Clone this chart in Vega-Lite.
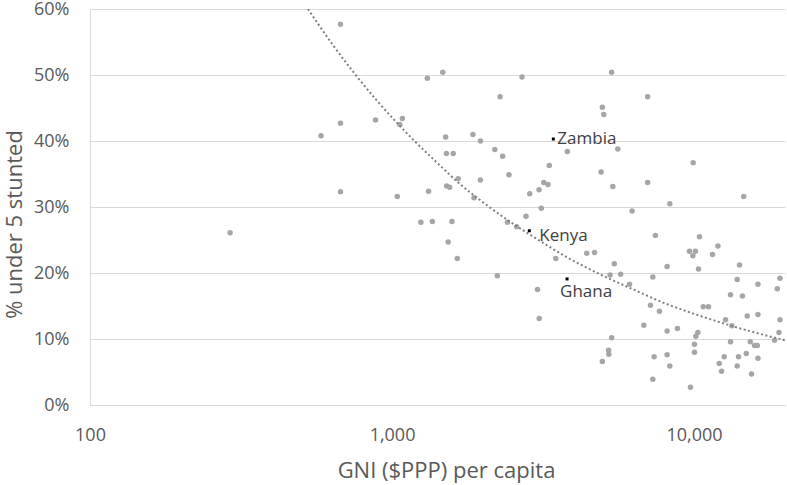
{
  "$schema": "https://vega.github.io/schema/vega-lite/v6.json",
  "width": 695,
  "height": 396,
  "autosize": "none",
  "padding": {"left": 90, "top": 9, "right": 2, "bottom": 80},
  "background": "white",
  "config": {
    "view": {"stroke": null},
    "font": "Open Sans",
    "axis": {"labelFont": "Open Sans", "titleFont": "Open Sans", "labelColor": "#595959", "titleColor": "#595959", "titleFontWeight": "normal", "domainColor": "#d9d9d9", "gridColor": "#d9d9d9", "ticks": false, "tickSize": 0, "labelFontSize": 18, "titleFontSize": 22}
  },
  "datasets": {
    "pts": [
      {"g": 291, "s": 26.1, "c": ""}, {"g": 582, "s": 40.8, "c": ""}, {"g": 675, "s": 42.7, "c": ""}, {"g": 675, "s": 57.7, "c": ""},
      {"g": 675, "s": 32.3, "c": ""}, {"g": 882, "s": 43.2, "c": ""}, {"g": 1041, "s": 31.6, "c": ""}, {"g": 1082, "s": 43.4, "c": ""},
      {"g": 1061, "s": 42.5, "c": ""}, {"g": 1246, "s": 27.7, "c": ""}, {"g": 1309, "s": 49.5, "c": ""}, {"g": 1360, "s": 27.8, "c": ""},
      {"g": 1321, "s": 32.4, "c": ""}, {"g": 1472, "s": 50.4, "c": ""}, {"g": 1505, "s": 40.6, "c": ""}, {"g": 1514, "s": 38.1, "c": ""},
      {"g": 1594, "s": 38.1, "c": ""}, {"g": 1516, "s": 33.2, "c": ""}, {"g": 1551, "s": 33.0, "c": ""}, {"g": 1579, "s": 27.8, "c": ""},
      {"g": 1534, "s": 24.7, "c": ""}, {"g": 1644, "s": 22.2, "c": ""}, {"g": 1656, "s": 34.3, "c": ""}, {"g": 1853, "s": 41.0, "c": ""},
      {"g": 1962, "s": 40.0, "c": ""}, {"g": 1962, "s": 34.1, "c": ""}, {"g": 1868, "s": 31.4, "c": ""}, {"g": 2189, "s": 38.7, "c": ""},
      {"g": 2280, "s": 46.7, "c": ""}, {"g": 2231, "s": 19.6, "c": ""}, {"g": 2324, "s": 37.7, "c": ""}, {"g": 2439, "s": 34.9, "c": ""},
      {"g": 2411, "s": 27.7, "c": ""}, {"g": 2586, "s": 27.0, "c": ""}, {"g": 2693, "s": 49.7, "c": ""}, {"g": 2777, "s": 28.6, "c": ""},
      {"g": 2857, "s": 32.0, "c": ""}, {"g": 3067, "s": 32.6, "c": ""}, {"g": 3121, "s": 29.8, "c": ""}, {"g": 3179, "s": 33.7, "c": ""},
      {"g": 3284, "s": 33.4, "c": ""}, {"g": 3317, "s": 36.3, "c": ""}, {"g": 3031, "s": 17.5, "c": ""}, {"g": 3071, "s": 13.1, "c": ""},
      {"g": 3484, "s": 22.2, "c": ""}, {"g": 3806, "s": 38.4, "c": ""}, {"g": 4412, "s": 23.0, "c": ""}, {"g": 4683, "s": 23.1, "c": ""},
      {"g": 4921, "s": 35.3, "c": ""}, {"g": 4970, "s": 45.1, "c": ""}, {"g": 5023, "s": 44.0, "c": ""}, {"g": 5333, "s": 50.4, "c": ""},
      {"g": 5383, "s": 33.1, "c": ""}, {"g": 5591, "s": 38.8, "c": ""}, {"g": 5444, "s": 21.4, "c": ""}, {"g": 5272, "s": 19.7, "c": ""},
      {"g": 5712, "s": 19.8, "c": ""}, {"g": 6116, "s": 18.3, "c": ""}, {"g": 6234, "s": 29.4, "c": ""}, {"g": 5333, "s": 10.2, "c": ""},
      {"g": 5212, "s": 8.3, "c": ""}, {"g": 5220, "s": 7.7, "c": ""}, {"g": 4970, "s": 6.6, "c": ""}, {"g": 6817, "s": 12.1, "c": ""},
      {"g": 7170, "s": 15.1, "c": ""}, {"g": 7680, "s": 14.2, "c": ""}, {"g": 7018, "s": 46.7, "c": ""}, {"g": 7018, "s": 33.7, "c": ""},
      {"g": 8311, "s": 30.5, "c": ""}, {"g": 9931, "s": 36.7, "c": ""}, {"g": 14600, "s": 31.6, "c": ""}, {"g": 7449, "s": 25.7, "c": ""},
      {"g": 10420, "s": 25.5, "c": ""}, {"g": 11996, "s": 24.1, "c": ""}, {"g": 9656, "s": 23.3, "c": ""}, {"g": 10106, "s": 23.3, "c": ""},
      {"g": 9909, "s": 22.6, "c": ""}, {"g": 11508, "s": 22.8, "c": ""}, {"g": 8141, "s": 21.0, "c": ""}, {"g": 10342, "s": 20.6, "c": ""},
      {"g": 14140, "s": 21.2, "c": ""}, {"g": 7301, "s": 19.4, "c": ""}, {"g": 13895, "s": 19.0, "c": ""}, {"g": 16272, "s": 18.3, "c": ""},
      {"g": 19248, "s": 19.2, "c": ""}, {"g": 18858, "s": 17.6, "c": ""}, {"g": 13204, "s": 16.7, "c": ""}, {"g": 14467, "s": 16.5, "c": ""},
      {"g": 10720, "s": 14.9, "c": ""}, {"g": 11161, "s": 14.9, "c": ""}, {"g": 8141, "s": 11.2, "c": ""}, {"g": 8810, "s": 11.6, "c": ""},
      {"g": 12710, "s": 12.9, "c": ""}, {"g": 14996, "s": 13.5, "c": ""}, {"g": 16272, "s": 13.7, "c": ""}, {"g": 13345, "s": 12.0, "c": ""},
      {"g": 19248, "s": 12.9, "c": ""}, {"g": 10294, "s": 11.0, "c": ""}, {"g": 10139, "s": 10.4, "c": ""}, {"g": 19101, "s": 11.0, "c": ""},
      {"g": 18471, "s": 9.8, "c": ""}, {"g": 13204, "s": 9.6, "c": ""}, {"g": 15346, "s": 9.6, "c": ""}, {"g": 15857, "s": 9.0, "c": ""},
      {"g": 16190, "s": 9.0, "c": ""}, {"g": 10030, "s": 9.2, "c": ""}, {"g": 10030, "s": 8.0, "c": ""}, {"g": 7374, "s": 7.3, "c": ""},
      {"g": 8141, "s": 7.6, "c": ""}, {"g": 8311, "s": 5.9, "c": ""}, {"g": 12584, "s": 7.3, "c": ""}, {"g": 14033, "s": 7.3, "c": ""},
      {"g": 14884, "s": 7.8, "c": ""}, {"g": 16272, "s": 7.1, "c": ""}, {"g": 12115, "s": 6.3, "c": ""}, {"g": 13895, "s": 5.9, "c": ""},
      {"g": 12328, "s": 5.1, "c": ""}, {"g": 15500, "s": 4.7, "c": ""}, {"g": 7301, "s": 3.9, "c": ""}, {"g": 9729, "s": 2.7, "c": ""},
      {"g": 3420, "s": 40.3, "c": "Zambia"}, {"g": 2848, "s": 26.4, "c": "Kenya"}, {"g": 3797, "s": 19.1, "c": "Ghana"}
    ],
    "trend": [
      {"g": 527, "s": 60.0}, {"g": 638, "s": 54.5}, {"g": 743, "s": 50.5}, {"g": 888, "s": 46.2}, {"g": 1061, "s": 42.3},
      {"g": 1205, "s": 39.7}, {"g": 1440, "s": 36.3}, {"g": 1677, "s": 33.5}, {"g": 2057, "s": 30.3}, {"g": 2586, "s": 27.1},
      {"g": 2935, "s": 25.5}, {"g": 3788, "s": 22.4}, {"g": 4884, "s": 19.8}, {"g": 6297, "s": 17.5}, {"g": 8125, "s": 15.3},
      {"g": 10476, "s": 13.5}, {"g": 13508, "s": 11.9}, {"g": 20000, "s": 9.8}
    ]
  },
  "data": {"name": "pts"},
  "encoding": {
    "x": {"field": "g", "type": "quantitative", "scale": {"type": "log", "domain": [100, 20000], "nice": false},
      "axis": {"values": [100, 1000, 10000], "format": ",", "grid": false, "labelFlush": false, "labelPadding": 21, "title": "GNI ($PPP) per capita", "titleBaseline": "alphabetic", "titleY": 72, "titleX": 356}},
    "y": {"field": "s", "type": "quantitative", "scale": {"domain": [0, 60], "nice": false},
      "axis": {"values": [0, 10, 20, 30, 40, 50, 60], "labelExpr": "datum.value + '%'", "labelPadding": 21, "title": "% under 5 stunted", "titleBaseline": "alphabetic", "titleX": -69, "titleY": 215}}
  },
  "layer": [
    {"transform": [{"filter": "datum.c == ''"}], "mark": {"type": "point", "filled": true, "size": 30, "color": "#a6a6a6", "opacity": 1}},
    {"data": {"name": "trend"}, "mark": {"type": "line", "color": "#7f7f7f", "strokeWidth": 2, "strokeDash": [2, 2.5], "interpolate": "monotone", "clip": true}},
    {"transform": [{"filter": "datum.c != ''"}], "mark": {"type": "point", "filled": true, "shape": "square", "size": 9, "color": "#000000", "opacity": 1}},
    {"transform": [{"filter": "datum.c == 'Zambia'"}], "mark": {"type": "text", "align": "left", "baseline": "middle", "dx": 4, "dy": 0, "fontSize": 17, "color": "#404040", "font": "Open Sans"}, "encoding": {"text": {"field": "c"}}},
    {"transform": [{"filter": "datum.c == 'Kenya'"}], "mark": {"type": "text", "align": "left", "baseline": "middle", "dx": 10, "dy": 5, "fontSize": 17, "color": "#404040", "font": "Open Sans"}, "encoding": {"text": {"field": "c"}}},
    {"transform": [{"filter": "datum.c == 'Ghana'"}], "mark": {"type": "text", "align": "left", "baseline": "middle", "dx": -7, "dy": 13, "fontSize": 17, "color": "#404040", "font": "Open Sans"}, "encoding": {"text": {"field": "c"}}}
  ]
}
